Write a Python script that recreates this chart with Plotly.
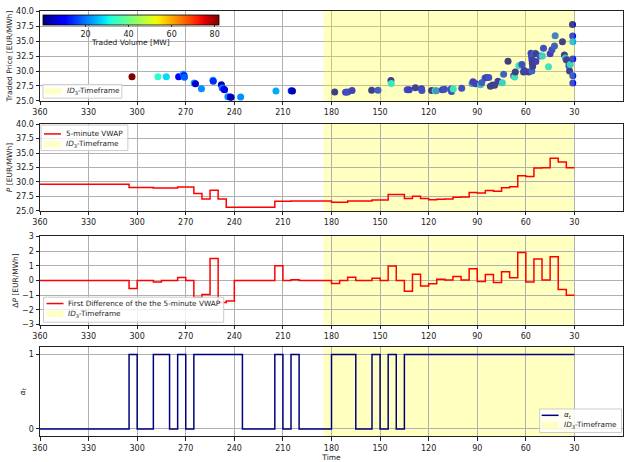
import numpy as np
import plotly.graph_objects as go

# ---------------- data ----------------
ID3_START = 185
ID3_END = 30
X_TICKS = [360, 330, 300, 270, 240, 210, 180, 150, 120, 90, 60, 30]

# 5-minute interval start times (minutes to delivery)
interval_start = list(range(360, 30, -5))
interval_end = 30

vwap = [29.6] * 11 + [29.05, 29.05, 29.05, 28.95, 28.95, 28.95, 29.15, 29.15,
        28.0, 27.05, 28.55, 27.05] + [25.65] * 6 + [26.65, 26.65] + [26.7] * 5 + \
       [26.5, 26.5, 26.72, 26.72, 26.72, 26.87, 26.87, 27.85, 27.85, 27.12, 27.54,
        27.16, 26.94, 27.03, 27.07, 27.34, 27.38, 28.18, 28.11, 28.51, 28.38, 28.98,
        29.16, 31.06, 30.96, 32.43, 32.47, 34.09, 33.47, 32.47]

dvwap = [0.0] * 11 + [-0.55, 0.0, 0.0, -0.1, 0.0, 0.0, 0.2, 0.0,
         -1.15, -0.95, 1.5, -1.5, -1.4] + [0.0] * 5 + [1.0, 0.0, 0.05] + [0.0] * 4 + \
        [-0.2, 0.0, 0.22, 0.0, 0.0, 0.15, 0.0, 0.98, 0.0, -0.73, 0.42, -0.38, -0.22,
         0.09, 0.04, 0.27, 0.04, 0.8, -0.07, 0.4, -0.13, 0.6, 0.18, 1.9, -0.1, 1.47,
         0.04, 1.62, -0.62, -1.0]

alpha = [0] * 11 + [1, 0, 0, 1, 1, 0, 1, 0] + [1] * 6 + [0] * 4 + [1, 0, 1] + [0] * 4 + \
        [1, 1, 1, 0, 0, 1, 0, 1, 0] + [1] * 21

trade_time = [303.2, 287.2, 282.0, 274.4, 271.5, 271.0, 270.8, 264.8, 264.0, 260.3,
              253.2, 253.0, 248.0, 247.5, 246.5, 246.0, 244.0, 242.5, 242.0, 236.1,
              214.3, 204.9, 204.1,
              178.0, 171.3, 170.0, 167.3, 155.2, 151.3, 143.3, 143.1, 133.3, 132.0,
              128.2, 124.4, 124.2, 118.2, 116.0, 115.2, 111.5, 110.2, 106.2, 105.9,
              104.8, 99.6, 93.2, 92.6, 90.9, 88.0, 87.2, 85.2, 84.2, 82.9, 81.9, 80.5,
              79.3, 77.2, 74.5, 73.7, 71.0, 67.5, 66.9, 66.5, 64.3, 63.4, 62.4, 61.4,
              61.0, 58.3, 56.8, 56.5, 56.3, 56.2, 56.0, 55.8, 54.2, 54.0, 53.8, 51.1,
              49.8, 49.1, 46.0, 45.0, 43.9, 42.3, 41.9, 37.4, 36.2, 35.6, 35.0, 34.5,
              33.4, 33.0, 32.6, 31.2, 31.1, 31.0, 31.0, 31.0, 31.0]
trade_price = [29.05, 29.05, 29.05, 29.05, 29.45, 29.2, 28.95, 28.0, 27.85, 27.05,
               28.45, 28.3, 27.7, 27.15, 26.95, 26.85, 25.7, 25.65, 25.6, 25.65,
               26.65, 26.7, 26.65,
               26.5, 26.45, 26.5, 26.75, 26.8, 26.8, 28.4, 27.9, 26.85, 26.85,
               27.2, 27.05, 26.75, 26.75, 26.7, 26.7, 26.85, 26.95, 27.0, 26.55,
               27.0, 27.1, 27.9, 28.2, 27.85, 27.7, 28.05, 28.85, 28.9, 28.9, 27.45, 27.67,
               27.6, 28.3, 28.05, 29.47, 31.65, 29.2, 29.0, 29.85, 30.9, 31.0, 31.1, 29.85,
               30.1, 29.85, 33.0, 32.4, 30.0, 31.8, 31.3, 30.8, 33.0, 32.9, 31.6, 32.5,
               32.5, 33.8, 30.7, 32.9, 33.55, 34.2, 35.9, 34.9, 32.7, 32.2, 31.9, 31.8,
               30.9, 30.0, 31.1, 37.8, 35.85, 34.9, 32.0, 29.2, 28.0]
trade_volume = [82, 33, 28, 10, 22, 12, 18, 24, 6, 22,
                22, 14, 4, 20, 12, 8, 22, 8, 4, 22,
                24, 14, 4,
                3, 10, 12, 10, 4, 14, 4, 28, 12, 10,
                6, 10, 12, 4, 25, 20, 8, 12, 12, 12,
                28, 12, 20, 8, 10, 24, 14, 12, 10, 12, 4, 4,
                5, 6, 26, 14, 3, 10, 28, 4, 28, 28, 12, 4,
                8, 6, 10, 12, 14, 8, 4, 6, 24, 4, 8, 12,
                26, 12, 28, 10, 12, 14, 18, 4, 4, 24, 12, 4,
                12, 6, 26, 4, 12, 24, 12, 14, 12]
VOL_MIN, VOL_MAX = 0.2, 82
VOL_TICKS = [20, 40, 60, 80]

# ---------------- styles ----------------
FONT = "DejaVu Sans"
TXT = "#222"
SPAN_FILL = "#FFFFBF"
GRID = "#b0b0b0"
ID3_LABEL = "<i>ID</i><sub>3</sub>-Timeframe"
W, H, ML = 624, 462, 40
PLOT_W = W - ML
TICK_FS = 8
TITLE_FS = 7.5
LEG_FS = 7.3


def jet(v):
    r = np.interp(v, [0, 0.35, 0.66, 0.89, 1], [0, 0, 1, 1, 0.5])
    g = np.interp(v, [0, 0.125, 0.375, 0.64, 0.91, 1], [0, 0, 1, 1, 0, 0])
    b = np.interp(v, [0, 0.11, 0.34, 0.65, 1], [0.5, 1, 1, 0, 0])
    return "rgb(%d,%d,%d)" % (round(r * 255), round(g * 255), round(b * 255))


jet_scale = [[float(v), jet(v)] for v in np.linspace(0, 1, 41)]


def px(xp):
    return (xp - ML) / PLOT_W


def py(yp):
    return (H - yp) / H


fig = go.Figure()

domains = {1: [py(98.8), py(7.5)], 2: [py(211), py(122.5)], 3: [py(327), py(237)],
           4: [py(441), py(350)]}


def xs_step(vals):
    return interval_start + [interval_end], list(vals) + [vals[-1]]


fig.add_trace(go.Scatter(
    x=trade_time, y=trade_price, mode="markers", xaxis="x", yaxis="y",
    marker=dict(size=7, color=trade_volume, colorscale=jet_scale, cmin=VOL_MIN, cmax=VOL_MAX,
                line=dict(width=0),
                colorbar=dict(orientation="h", x=px(43), xanchor="left", y=py(11), yanchor="top",
                              len=176 / PLOT_W, lenmode="fraction", thickness=10, xpad=0, ypad=0,
                              outlinewidth=0.8, outlinecolor="black",
                              tickvals=VOL_TICKS, ticks="outside", ticklen=2,
                              tickfont=dict(size=TICK_FS, color=TXT, family=FONT))),
    showlegend=False, hoverinfo="skip"))

x2, y2 = xs_step(vwap)
fig.add_trace(go.Scatter(x=x2, y=y2, mode="lines", line=dict(color="red", width=1.5, shape="hv"),
                         name="5-minute VWAP", xaxis="x2", yaxis="y2", showlegend=False))
x3, y3 = xs_step(dvwap)
fig.add_trace(go.Scatter(x=x3, y=y3, mode="lines", line=dict(color="red", width=1.5, shape="hv"),
                         name="First Difference of the the 5-minute VWAP",
                         xaxis="x3", yaxis="y3", showlegend=False))
x4, y4 = xs_step(alpha)
fig.add_trace(go.Scatter(x=x4, y=y4, mode="lines", line=dict(color="navy", width=1.5, shape="hv"),
                         name="α_t", xaxis="x4", yaxis="y4", showlegend=False))

shapes = []
annotations = []
for i in [1, 2, 3, 4]:
    sfx = "" if i == 1 else str(i)
    if i == 1:
        shapes.append(dict(type="rect", xref="x", yref="y domain", x0=ID3_START, x1=ID3_END,
                           y0=0, y1=1, fillcolor="yellow", opacity=0.25, line=dict(width=0),
                           layer="above"))
    else:
        shapes.append(dict(type="rect", xref="x" + sfx, yref="y" + sfx + " domain",
                           x0=ID3_START, x1=ID3_END, y0=0, y1=1, fillcolor=SPAN_FILL,
                           line=dict(width=0), layer="below"))

# colorbar title
annotations.append(dict(text="Traded Volume [MW]", xref="paper", yref="paper", x=px(131), y=py(39.5),
                        xanchor="center", yanchor="middle", showarrow=False,
                        font=dict(size=TITLE_FS, family=FONT, color=TXT)))


def add_legend(box, items):
    """box = (x0, y0, x1, y1) in pixels; items = (kind, color, label, sample_x, center_y)"""
    x0, y0, x1, y1 = box
    shapes.append(dict(type="rect", xref="paper", yref="paper", x0=px(x0), x1=px(x1),
                       y0=py(y1), y1=py(y0), fillcolor="rgba(255,255,255,0.8)",
                       line=dict(color="#cccccc", width=1), layer="above"))
    for kind, color, label, sx, cy in items:
        if kind == "line":
            shapes.append(dict(type="line", xref="paper", yref="paper", x0=px(sx), x1=px(sx + 17),
                               y0=py(cy), y1=py(cy), line=dict(color=color, width=1.5),
                               layer="above"))
        else:
            shapes.append(dict(type="rect", xref="paper", yref="paper", x0=px(sx), x1=px(sx + 17),
                               y0=py(cy + 3), y1=py(cy - 3), fillcolor=color,
                               line=dict(width=0), layer="above"))
        annotations.append(dict(text=label, xref="paper", yref="paper", x=px(sx + 20), y=py(cy),
                                xanchor="left", yanchor="middle", showarrow=False,
                                font=dict(size=LEG_FS, family=FONT, color=TXT)))


add_legend((43, 82, 122, 96), [("patch", SPAN_FILL, ID3_LABEL, 45, 89)])
add_legend((41, 123.5, 128, 149.5), [("line", "red", "5-minute VWAP", 44, 132.5),
                                     ("patch", SPAN_FILL, ID3_LABEL, 44, 143)])
add_legend((43.5, 299, 224, 324.5), [("line", "red", "First Difference of the the 5-minute VWAP",
                                      46.5, 305.5),
                                     ("patch", SPAN_FILL, ID3_LABEL, 46.5, 316)])
add_legend((540.5, 413, 622.5, 437), [("line", "navy", "<i>α<sub>t</sub></i>", 542.5, 419.5),
                                      ("patch", SPAN_FILL, ID3_LABEL, 542.5, 429.5)])

axis_common = dict(showgrid=True, gridcolor=GRID, gridwidth=0.8, showline=True, mirror=True,
                   linecolor="#222", linewidth=1, ticks="outside", ticklen=3.5, tickcolor="#222",
                   tickfont=dict(size=TICK_FS, color=TXT, family=FONT), zeroline=False)

layout = dict(width=W, height=H, margin=dict(l=ML, r=0, t=0, b=0),
              paper_bgcolor="white", plot_bgcolor="white", showlegend=False,
              font=dict(family=FONT, size=8, color=TXT), shapes=shapes, annotations=annotations)

y_cfg = {
    1: dict(range=[25, 40], tickvals=[25, 27.5, 30, 32.5, 35, 37.5, 40], tickformat=".1f",
            title="Traded Price [EUR/MWh]"),
    2: dict(range=[25, 40], tickvals=[25, 27.5, 30, 32.5, 35, 37.5, 40], tickformat=".1f",
            title="<i>P</i> [EUR/MWh]"),
    3: dict(range=[-3, 3], tickvals=[-3, -2, -1, 0, 1, 2, 3], tickformat="d",
            title="Δ<i>P</i> [EUR/MWh]"),
    4: dict(range=[-0.1, 1.1], tickvals=[0, 1], tickformat="d",
            title="<i>α<sub>t</sub></i>"),
}
for i in [1, 2, 3, 4]:
    sfx = "" if i == 1 else str(i)
    xa = dict(axis_common, domain=[0, 1], range=[360, 0], tickvals=X_TICKS, anchor="y" + sfx)
    if i == 4:
        xa["title"] = dict(text="Time", font=dict(size=TITLE_FS, family=FONT, color=TXT), standoff=2)
    layout["xaxis" + sfx] = xa
    c = y_cfg[i]
    layout["yaxis" + sfx] = dict(axis_common, domain=domains[i], range=c["range"],
                                 tickvals=c["tickvals"], tickformat=c["tickformat"],
                                 anchor="x" + sfx,
                                 title=dict(text=c["title"], standoff=2,
                                            font=dict(size=TITLE_FS, family=FONT, color=TXT)))

fig.update_layout(**layout)
fig.write_html("out.html")
